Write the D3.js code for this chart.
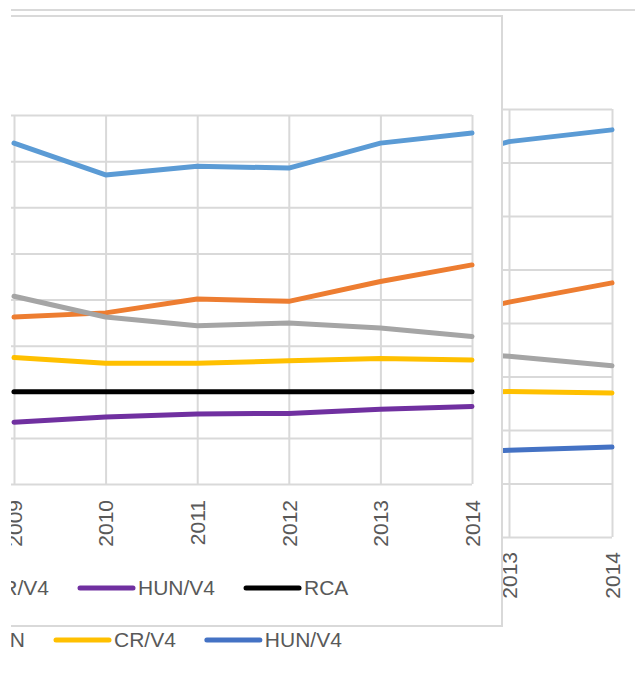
<!DOCTYPE html>
<html>
<head>
<meta charset="utf-8">
<script src="https://cdn.jsdelivr.net/npm/d3@7"></script>
<style>
  body { margin: 0; background: #fff; }
  svg { display: block; font-family: "Liberation Sans", Arial, sans-serif; }
  .grid line { stroke: #d9d9d9; stroke-width: 2; }
  .grid path { display: none; }
  .series { fill: none; stroke-width: 5; stroke-linecap: round; stroke-linejoin: round; }
  text { fill: #595959; }
</style>
</head>
<body>
<svg id="chart" width="635" height="675"></svg>
<script>
// data (ratio values, RCA = 1)
var years = [2009, 2010, 2011, 2012, 2013, 2014];
var seriesNames = ["SR/V4", "PL/V4", "V4 MEAN", "CR/V4", "HUN/V4", "RCA"];
var srV4   = [1.539, 1.470, 1.489, 1.485, 1.539, 1.561];
var plV4   = [1.162, 1.171, 1.201, 1.196, 1.239, 1.275];
var v4Mean = [1.207, 1.162, 1.143, 1.149, 1.138, 1.120];
var crV4   = [1.074, 1.062, 1.062, 1.067, 1.072, 1.069];
var hunV4  = [0.934, 0.945, 0.952, 0.953, 0.962, 0.968];
var rca    = [1, 1, 1, 1, 1, 1];
var yTicks = [0.8, 0.9, 1.0, 1.1, 1.2, 1.3, 1.4, 1.5, 1.6];

var colorsFront = ["#5b9bd5", "#ed7d31", "#a5a5a5", "#ffc000", "#7030a0", "#000000"];
var colorsBack  = ["#5b9bd5", "#ed7d31", "#a5a5a5", "#ffc000", "#4472c4"];

var allValues = [srV4, plV4, v4Mean, crV4, hunV4, rca];

var svg = d3.select("#chart");
svg.append("defs").append("clipPath").attr("id", "pageclip")
  .append("rect").attr("x", 11).attr("y", 0).attr("width", 624).attr("height", 675);
var root = svg.append("g").attr("clip-path", "url(#pageclip)");

function drawChart(g, opt) {
  var x = d3.scaleLinear().domain([2009, 2014]).range(opt.xRange);
  var y = d3.scaleLinear().domain([0.8, 1.6]).range(opt.yRange);

  g.append("rect")
    .attr("x", opt.box[0]).attr("y", opt.box[1])
    .attr("width", opt.box[2]).attr("height", opt.box[3])
    .attr("fill", "#fff").attr("stroke", "#d9d9d9").attr("stroke-width", 2);

  // horizontal grid
  g.append("g").attr("class", "grid")
    .attr("transform", "translate(" + opt.gridLeft + ",0)")
    .call(d3.axisLeft(y).tickValues(yTicks).tickSize(-(opt.xRange[1] - opt.gridLeft)).tickFormat(""));

  // vertical grid + year labels
  var xa = g.append("g").attr("class", "grid")
    .attr("transform", "translate(0," + opt.yRange[0] + ")")
    .call(d3.axisBottom(x).tickValues(years).tickSize(-(opt.yRange[0] - opt.yRange[1])).tickFormat(d3.format("d")));
  xa.selectAll("text")
    .attr("transform", "rotate(-90)")
    .attr("x", -opt.labelOffset).attr("y", 0).attr("dy", "0.35em")
    .attr("text-anchor", "end")
    .style("font-size", "21px").style("fill", "#595959");

  var line = d3.line().x(function(d, i) { return x(years[i]); }).y(function(d) { return y(d); });
  g.append("g").selectAll("path")
    .data(opt.series)
    .join("path")
    .attr("class", "series")
    .attr("stroke", function(d, i) { return opt.colors[i]; })
    .attr("d", function(d) { return line(d); });
}

function drawLegend(g, items, anchorIndex, anchorX, yPos) {
  var lineLen = 53, gapIn = 5, gapOut = 31;
  var grp = g.append("g");
  var widths = items.map(function(it) {
    var t = grp.append("text").style("font-size", "21px").text(it.name);
    var w = t.node().getComputedTextLength();
    t.remove();
    return w;
  });
  var xs = [];
  var xCur = anchorX;
  for (var i = anchorIndex; i >= 0; i--) {
    if (i < anchorIndex) xCur -= lineLen + gapIn + widths[i] + gapOut;
    xs[i] = xCur;
  }
  xCur = anchorX;
  for (var j = anchorIndex + 1; j < items.length; j++) {
    xCur += lineLen + gapIn + widths[j - 1] + gapOut;
    xs[j] = xCur;
  }
  items.forEach(function(it, k) {
    grp.append("line")
      .attr("x1", xs[k]).attr("x2", xs[k] + lineLen)
      .attr("y1", yPos).attr("y2", yPos)
      .attr("stroke", it.color).attr("stroke-width", 5).attr("stroke-linecap", "round");
    grp.append("text")
      .attr("x", xs[k] + lineLen + gapIn).attr("y", yPos).attr("dy", "0.35em")
      .style("font-size", "21px").text(it.name);
  });
}

// back chart (partly hidden)
var back = root.append("g");
drawChart(back, {
  box: [-200, 10, 1000, 800],
  xRange: [97, 612], yRange: [537, 109], gridLeft: 97,
  labelOffset: 15,
  series: allValues.slice(0, 5), colors: colorsBack
});
drawLegend(back, [
  { name: seriesNames[2], color: colorsBack[2] },
  { name: seriesNames[3], color: colorsBack[3] },
  { name: seriesNames[4], color: colorsBack[4] }
], 1, 56, 640);

// front chart
var front = root.append("g");
drawChart(front, {
  box: [-300, 16, 802, 610],
  xRange: [14, 472], yRange: [484, 115], gridLeft: 0,
  labelOffset: 16,
  series: allValues, colors: colorsFront
});
drawLegend(front, [
  { name: seriesNames[3], color: colorsFront[3] },
  { name: seriesNames[4], color: colorsFront[4] },
  { name: seriesNames[5], color: colorsFront[5] }
], 1, 80, 588);
</script>
</body>
</html>
